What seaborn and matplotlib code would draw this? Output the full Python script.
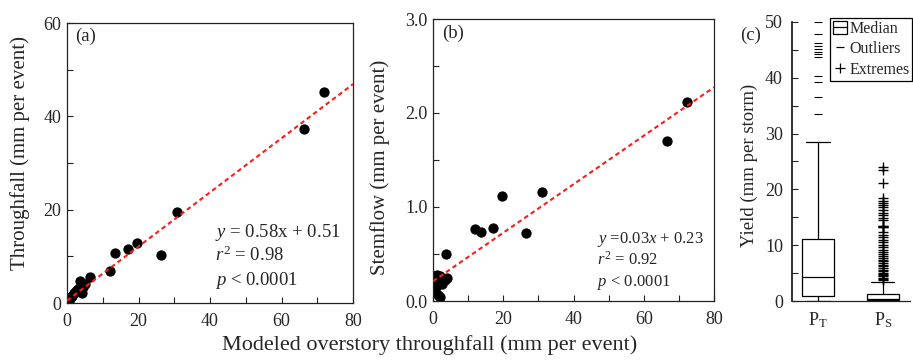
# throughfall_stemflow_plot.py
import numpy as np
import matplotlib
matplotlib.use("Agg")
import matplotlib.pyplot as plt
from matplotlib.ticker import MultipleLocator, FormatStrFormatter
from matplotlib.patches import Rectangle
from matplotlib.lines import Line2D
import seaborn as sns

# (a) throughfall vs modeled overstory throughfall
tf_x = [72.0, 66.3, 30.8, 26.3, 19.7, 17.1, 13.5, 12.1, 6.4, 3.5, 5.0, 4.2,
        3.0, 2.5, 2.0, 1.5, 1.0, 0.6, 0.3, 0.1, 0.2, 0.5, 4.6, 2.7]
tf_y = [45.2, 37.2, 19.5, 10.2, 12.8, 11.6, 10.8, 6.9, 5.6, 4.8, 4.1, 2.2,
        3.0, 2.6, 2.2, 1.6, 1.2, 0.8, 0.4, 0.1, 1.0, 0.2, 3.5, 2.8]
tf_fit = (0.58, 0.51)
tf_text = ["$y$ = 0.58x + 0.51", "$r^2$ = 0.98", "$p$ < 0.0001"]

# (b) stemflow vs modeled overstory throughfall
sf_x = [72.4, 66.6, 30.9, 19.6, 17.2, 12.0, 13.6, 26.5, 3.7, 4.1, 3.3, 2.5,
        2.0, 1.5, 1.0, 0.5, 0.3, 0.8, 1.4, 2.0, 0.4]
sf_y = [2.12, 1.70, 1.16, 1.12, 0.78, 0.77, 0.73, 0.72, 0.50, 0.25, 0.22, 0.18,
        0.27, 0.20, 0.28, 0.22, 0.27, 0.15, 0.06, 0.04, 0.10]
sf_fit = (0.0258, 0.21)
sf_text = ["$y$ =0.03$x$ + 0.23", "$r^2$ = 0.92", "$p$ < 0.0001"]

# (c) yield per storm box plots
box_labels = ["P$_\\mathrm{T}$", "P$_\\mathrm{S}$"]
box_q1 = [0.9, 0.15]
box_med = [4.35, 0.4]
box_q3 = [11.2, 1.2]
box_whislo = [0.0, 0.0]
box_whishi = [28.5, 3.45]
pt_outliers = [50.0, 47.8, 46.2, 45.7, 45.2, 44.7, 44.2, 43.8,
               40.3, 39.3, 36.6, 33.5]
ps_extremes = [24.0, 23.4, 21.1, 18.4, 18.0, 17.6, 17.2, 16.8, 16.3, 15.8,
               15.4, 14.9, 14.5, 13.5, 13.4, 13.3, 13.2, 12.4, 11.9, 11.4,
               11.0, 10.5, 10.0, 9.6, 9.2, 8.8, 8.4, 8.0, 7.7, 7.4, 7.1,
               6.8, 6.5, 6.2, 5.9, 5.6, 5.3, 5.0, 4.8, 4.6, 4.4, 4.2, 4.0, 3.8]

sns.set_style("ticks")
plt.rcParams["font.family"] = ["Liberation Serif", "DejaVu Serif"]
plt.rcParams["mathtext.fontset"] = "custom"
plt.rcParams["mathtext.rm"] = "Liberation Serif"
plt.rcParams["mathtext.it"] = "Liberation Serif:italic"

W, H = 913, 364
fig = plt.figure(figsize=(W / 100, H / 100), dpi=100)


def px_axes(left, top, right, bottom):
    return fig.add_axes([left / W, 1 - bottom / H, (right - left) / W, (bottom - top) / H])


def style(ax):
    for s in ax.spines.values():
        s.set_color("#222222")
        s.set_linewidth(0.9)
    ax.tick_params(which="both", direction="in", length=4.5, width=0.8,
                   color="#222222", labelsize=13)
    ax.tick_params(axis="x", pad=7)
    ax.tick_params(axis="y", pad=4)


def scatter_panel(ax, x, y, fit, xmax, ymax, ymaj, text, tsize, tx, tys):
    sns.scatterplot(x=x, y=y, color="black", s=55, linewidth=0, ax=ax, zorder=2)
    xs = np.array([0, xmax])
    ax.plot(xs, fit[0] * xs + fit[1], color="#ff1a1a", lw=1.5,
            linestyle=(0, (2.2, 1.6)), zorder=3)
    ax.set_xlim(0, xmax)
    ax.set_ylim(0, ymax)
    ax.xaxis.set_major_locator(MultipleLocator(20))
    ax.xaxis.set_minor_locator(MultipleLocator(10))
    ax.yaxis.set_major_locator(MultipleLocator(ymaj))
    ax.yaxis.set_minor_locator(MultipleLocator(ymaj / 2))
    style(ax)
    for t, ty in zip(text, tys):
        ax.text(tx, ty, t, transform=fig.transFigure, fontsize=tsize, va="baseline")


ax_a = px_axes(67, 23, 353, 303)
scatter_panel(ax_a, tf_x, tf_y, tf_fit, 80, 60, 20, tf_text, 13.5,
              215 / W, [1 - 237 / H, 1 - 261 / H, 1 - 285 / H])
ax_a.set_ylabel("Throughfall (mm per event)", fontsize=15, va="center")
ax_a.yaxis.set_label_coords((20 - 67) / 286, (303 - 153) / 280)

ax_b = px_axes(433, 19, 714, 301)
scatter_panel(ax_b, sf_x, sf_y, sf_fit, 80, 3.0, 1.0, sf_text, 12,
              597 / W, [1 - 243 / H, 1 - 265 / H, 1 - 286 / H])
ax_b.yaxis.set_major_formatter(FormatStrFormatter("%.1f"))
ax_b.set_ylabel("Stemflow (mm per event)", fontsize=15, va="center")
ax_b.yaxis.set_label_coords((380 - 433) / 281, (301 - 167) / 282)

# box plot panel
ax_c = px_axes(792, 22, 910, 301)
stats = []
for i in range(len(box_labels)):
    stats.append(dict(med=box_med[i], q1=box_q1[i], q3=box_q3[i],
                      whislo=box_whislo[i], whishi=box_whishi[i], fliers=[]))
ax_c.bxp(stats, positions=[0, 1], widths=0.49, capwidths=0.36, showfliers=False,
         patch_artist=True,
         boxprops=dict(facecolor="white", edgecolor="black", linewidth=0.9),
         medianprops=dict(color="black", linewidth=0.9),
         whiskerprops=dict(color="black", linewidth=0.9),
         capprops=dict(color="black", linewidth=0.9))
ax_c.plot([0] * len(pt_outliers), pt_outliers, ls="none", marker="_",
          color="black", ms=6, mew=0.8)
ax_c.plot([1] * len(ps_extremes), ps_extremes, ls="none", marker="+",
          color="black", ms=7, mew=1.0)
ax_c.set_xlim(-0.4, 1.42)
ax_c.set_ylim(0, 50)
ax_c.set_xticks([0, 1], labels=box_labels)
ax_c.yaxis.set_major_locator(MultipleLocator(10))
ax_c.yaxis.set_minor_locator(MultipleLocator(5))
style(ax_c)
ax_c.tick_params(axis="x", length=0)
ax_c.tick_params(axis="y", pad=6.5)
ax_c.spines["top"].set_visible(False)
ax_c.spines["right"].set_visible(False)
ax_c.spines["left"].set_linewidth(1.3)
ax_c.set_ylabel("Yield (mm per storm)", fontsize=13.5, va="center")
ax_c.yaxis.set_label_coords((749 - 792) / 118, (301 - 165) / 279)

handles = [
    (Rectangle((0, 0), 1, 1, facecolor="white", edgecolor="black", lw=0.9),
     Line2D([], [], color="black", lw=0.9)),
    Line2D([], [], ls="none", marker="_", color="black", ms=6, mew=0.9),
    Line2D([], [], ls="none", marker="+", color="black", ms=7, mew=0.9),
]
leg = fig.legend(handles, ["Median", "Outliers", "Extremes"], loc="upper left",
                 bbox_to_anchor=(830 / W, 1 - 18 / H), borderaxespad=0,
                 fontsize=11.5, handlelength=0.9, handleheight=0.85,
                 handletextpad=0.12, labelspacing=0.28, borderpad=0.18,
                 fancybox=False, framealpha=1)
leg.get_frame().set_edgecolor("black")
leg.get_frame().set_linewidth(0.9)

# panel letters and shared x label
fig.text(75 / W, 1 - 36 / H, "(a)", fontsize=13.5, va="center")
fig.text(442 / W, 1 - 33 / H, "(b)", fontsize=13.5, va="center")
fig.text(740 / W, 1 - 35 / H, "(c)", fontsize=13.5, va="center")
fig.text(430 / W, 1 - 345 / H, "Modeled overstory throughfall (mm per event)",
         fontsize=16, ha="center", va="center")

fig.savefig("out.png", dpi=100)
